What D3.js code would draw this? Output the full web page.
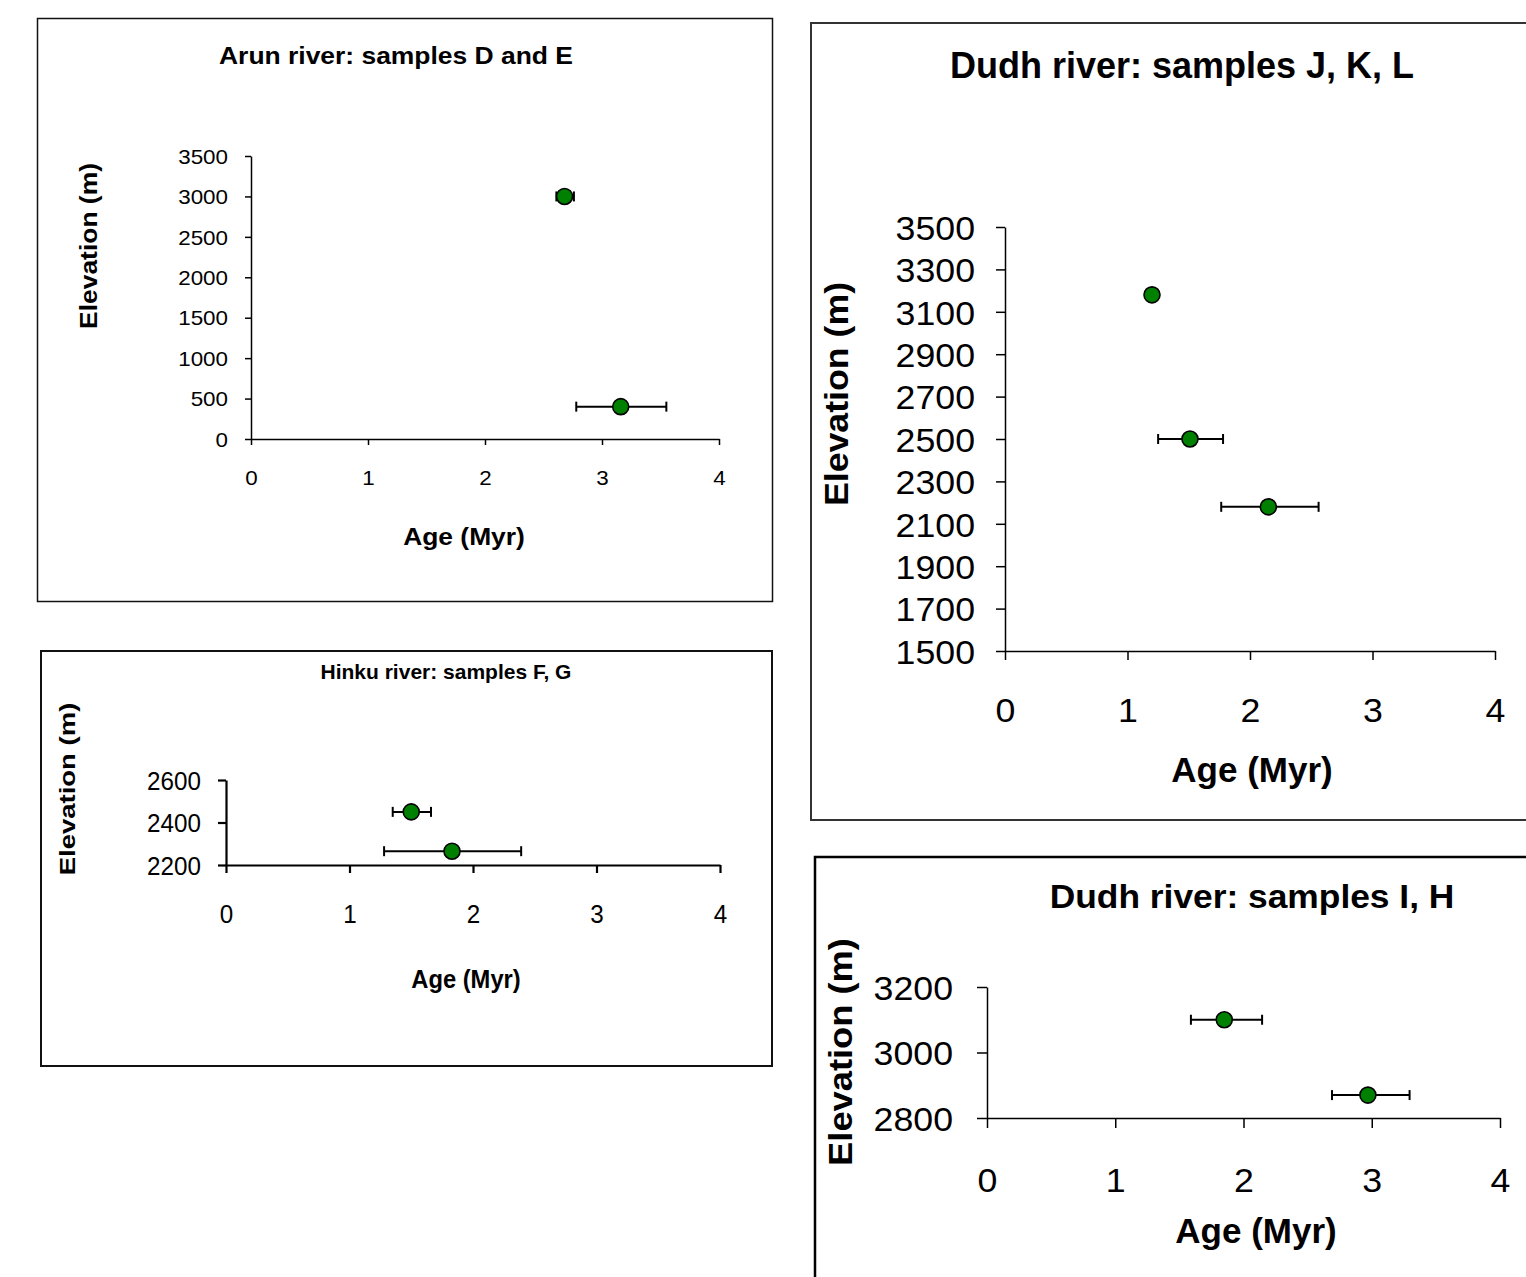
<!DOCTYPE html>
<html><head><meta charset="utf-8">
<script src="https://cdn.jsdelivr.net/npm/d3@7"></script>
<style>body{margin:0;background:#fff}svg{display:block}</style>
</head><body>
<svg id="chart" width="1526" height="1277"></svg>
<script>
// ---------- DATA ----------
const xTicks = [0, 1, 2, 3, 4];

const arunTitle = "Arun river: samples D and E";
const arunAge = [2.68, 3.16];
const arunElev = [3000, 400];
const arunErrMinus = [0.07, 0.38];
const arunErrPlus = [0.08, 0.39];
const arunYTicks = [0, 500, 1000, 1500, 2000, 2500, 3000, 3500];

const hinkuTitle = "Hinku river: samples F, G";
const hinkuAge = [1.50, 1.83];
const hinkuElev = [2450, 2265];
const hinkuErrMinus = [0.15, 0.55];
const hinkuErrPlus = [0.16, 0.56];
const hinkuYTicks = [2200, 2400, 2600];

const jklTitle = "Dudh river: samples J, K, L";
const jklAge = [1.20, 1.51, 2.15];
const jklElev = [3180, 2500, 2180];
const jklErrMinus = [0, 0.26, 0.385];
const jklErrPlus = [0, 0.27, 0.41];
const jklYTicks = [1500, 1700, 1900, 2100, 2300, 2500, 2700, 2900, 3100, 3300, 3500];

const ihTitle = "Dudh river: samples I, H";
const ihAge = [1.85, 2.97];
const ihElev = [3100, 2870];
const ihErrMinus = [0.26, 0.28];
const ihErrPlus = [0.295, 0.325];
const ihYTicks = [2800, 3000, 3200];

const xAxisTitle = "Age (Myr)";
const yAxisTitle = "Elevation (m)";

// ---------- LAYOUT ----------
const FONT = "'Liberation Sans', Arial, Helvetica, sans-serif";
const panels = [
  { title: arunTitle, age: arunAge, elev: arunElev, em: arunErrMinus, ep: arunErrPlus, yTicks: arunYTicks,
    frame: [37.5, 18.5, 735, 583], frameW: 1.5, frameC: "#111",
    xr: [251, 719], yr: [439, 156], yd: [0, 3500], axisW: 1.5, tick: 6,
    yGap: 23, xBase: 46, tickFs: 20, tickK: 1.12,
    t: [396, 64, 23, 1.15], xt: [464, 545, 24, 1.1], yt: [97, 246, 23, 1.15] },
  { title: hinkuTitle, age: hinkuAge, elev: hinkuElev, em: hinkuErrMinus, ep: hinkuErrPlus, yTicks: hinkuYTicks,
    frame: [41, 651, 731, 415], frameW: 2, frameC: "#111",
    xr: [226, 720], yr: [865, 780], yd: [2200, 2600], axisW: 2.2, tick: 8,
    yGap: 25, xBase: 58, tickFs: 25, tickK: 0.97,
    t: [446, 679, 21, 1.0], xt: [466, 988, 25, 0.95], yt: [75, 789, 22, 1.25] },
  { title: jklTitle, age: jklAge, elev: jklElev, em: jklErrMinus, ep: jklErrPlus, yTicks: jklYTicks,
    frame: [811, 23, 760, 797], frameW: 2, frameC: "#333",
    xr: [1005, 1495], yr: [651, 227], yd: [1500, 3500], axisW: 1.5, tick: 9,
    yGap: 30, xBase: 71, tickFs: 34, tickK: 1.05,
    t: [1182, 78, 36, 1.0], xt: [1252, 782, 35, 1.0], yt: [848, 394, 34, 1.05] },
  { title: ihTitle, age: ihAge, elev: ihElev, em: ihErrMinus, ep: ihErrPlus, yTicks: ihYTicks,
    frame: [815, 857, 760, 500], frameW: 2.5, frameC: "#000",
    xr: [987, 1500], yr: [1118, 987], yd: [2800, 3200], axisW: 1.5, tick: 10,
    yGap: 34, xBase: 74, tickFs: 34, tickK: 1.05,
    t: [1252, 908, 34, 1.04], xt: [1256, 1243, 35, 1.0], yt: [852, 1052, 33, 1.1] }
];

const svg = d3.select("#chart");
svg.append("rect").attr("width", 1526).attr("height", 1277).attr("fill", "#fff");

function stext(g, str, x, y, size, k, rot) {
  return g.append("text")
    .attr("transform", `translate(${x},${y})` + (rot ? ` rotate(${rot})` : "") + ` scale(${k},1)`)
    .attr("text-anchor", "middle")
    .style("font-family", FONT)
    .style("font-size", size + "px")
    .style("font-weight", "bold")
    .attr("fill", "#000")
    .text(str);
}

panels.forEach(p => {
  const g = svg.append("g");
  g.append("rect")
    .attr("x", p.frame[0]).attr("y", p.frame[1])
    .attr("width", p.frame[2]).attr("height", p.frame[3])
    .attr("fill", "none").attr("stroke", p.frameC).attr("stroke-width", p.frameW);

  const x = d3.scaleLinear().domain([0, 4]).range(p.xr);
  const y = d3.scaleLinear().domain(p.yd).range(p.yr);

  // axes
  const xa = g.append("g").attr("transform", `translate(0,${p.yr[0]})`)
    .call(d3.axisBottom(x).tickValues(xTicks).tickFormat(d3.format("d")).tickSize(p.tick).tickSizeOuter(0));
  const ya = g.append("g").attr("transform", `translate(${p.xr[0]},0)`)
    .call(d3.axisLeft(y).tickValues(p.yTicks).tickFormat(d3.format("d")).tickSize(p.tick).tickSizeOuter(0));
  [xa, ya].forEach(a => {
    a.attr("font-family", null).attr("font-size", null);
    a.select(".domain").attr("stroke", "#000").attr("stroke-width", p.axisW);
    a.selectAll(".tick line").attr("stroke", "#000").attr("stroke-width", p.axisW);
    a.selectAll(".tick text").style("font-family", FONT).style("font-size", p.tickFs + "px").attr("fill", "#000");
  });
  xa.selectAll(".tick text").each(function () {
    d3.select(this).attr("x", null).attr("y", null).attr("dy", null)
      .attr("transform", `translate(0,${p.xBase}) scale(${p.tickK},1)`);
  });
  ya.selectAll(".tick text").each(function () {
    d3.select(this).attr("x", null).attr("y", null).attr("dy", "0.36em")
      .attr("transform", `translate(${-p.yGap},0) scale(${p.tickK},1)`);
  });

  // titles
  stext(g, p.title, p.t[0], p.t[1], p.t[2], p.t[3]);
  stext(g, xAxisTitle, p.xt[0], p.xt[1], p.xt[2], p.xt[3]);
  stext(g, yAxisTitle, p.yt[0], p.yt[1], p.yt[2], p.yt[3], -90);

  // error bars + points
  const pts = p.age.map((a, i) => ({ a, e: p.elev[i], lo: a - p.em[i], hi: a + p.ep[i] }));
  const eb = g.append("g").attr("stroke", "#000").attr("stroke-width", 2);
  pts.filter(d => d.hi > d.lo).forEach(d => {
    const yy = y(d.e);
    eb.append("line").attr("x1", x(d.lo)).attr("x2", x(d.hi)).attr("y1", yy).attr("y2", yy);
    eb.append("line").attr("x1", x(d.lo)).attr("x2", x(d.lo)).attr("y1", yy - 5).attr("y2", yy + 5);
    eb.append("line").attr("x1", x(d.hi)).attr("x2", x(d.hi)).attr("y1", yy - 5).attr("y2", yy + 5);
  });
  g.append("g").selectAll("circle").data(pts).join("circle")
    .attr("cx", d => x(d.a)).attr("cy", d => y(d.e)).attr("r", 8)
    .attr("fill", "#008000").attr("stroke", "#000").attr("stroke-width", 1.6);
});
</script>
</body></html>
